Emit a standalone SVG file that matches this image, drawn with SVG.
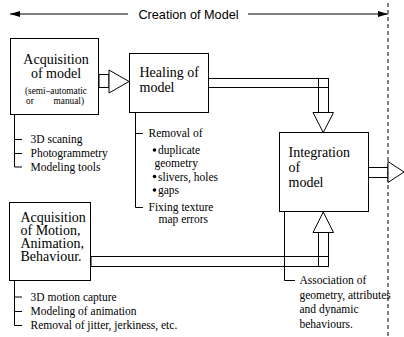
<svg xmlns="http://www.w3.org/2000/svg" width="404" height="337" viewBox="0 0 404 337">
<defs>
<style>
.box{fill:#fff;stroke:#000;stroke-width:1}
.sh{fill:none;stroke:#000;stroke-width:1}
.tri{fill:#fff;stroke:#000;stroke-width:1}
.ln{fill:none;stroke:#000;stroke-width:1}
.t{font-family:"Liberation Serif","Times New Roman",serif;font-size:14px;fill:#000}
.s{font-family:"Liberation Serif","Times New Roman",serif;font-size:11.5px;fill:#000}
.xs{font-family:"Liberation Serif","Times New Roman",serif;font-size:9.3px;fill:#000}
.ti{font-family:"Liberation Sans",Arial,sans-serif;font-size:12.7px;fill:#000}
</style>
<marker id="ah" viewBox="0 0 10 6" refX="10" refY="3" markerWidth="10" markerHeight="6" markerUnits="userSpaceOnUse" orient="auto-start-reverse">
<path d="M0,0 L10,3 L0,6 Z" fill="#000"/>
</marker>
</defs>
<rect width="404" height="337" fill="#fff"/>

<g id="title">
<line x1="10" y1="14" x2="128" y2="14" stroke="#000" stroke-width="1.2" marker-start="url(#ah)"/>
<line x1="248" y1="14" x2="388" y2="14" stroke="#000" stroke-width="1.2" marker-end="url(#ah)"/>
<text class="ti" x="188.5" y="18.5" text-anchor="middle">Creation of Model</text>
</g>
<line x1="388" y1="3" x2="388" y2="337" stroke="#555" stroke-width="1.5" stroke-dasharray="4,3"/>

<g id="connectors">
<rect class="sh" x="99" y="74.5" width="10" height="13"/>
<polygon class="tri" points="109,70 129,81.5 109,93"/>
<rect class="sh" x="208.5" y="78.5" width="120" height="9"/>
<rect class="sh" x="318.5" y="78.5" width="10" height="34"/>
<polygon class="tri" points="313,112.5 333.5,112.5 323.25,132.5"/>
<rect class="sh" x="368.5" y="167.5" width="19.5" height="10"/>
<polygon class="tri" points="388,161.5 404,172 388,182.5"/>
<rect class="sh" x="91" y="256.5" width="237.5" height="10"/>
<rect class="sh" x="318.5" y="232.5" width="10" height="34"/>
<polygon class="tri" points="313,232.5 333.5,232.5 323.25,212"/>
</g>

<g id="acq-model">
<rect class="box" x="10.5" y="38.5" width="88" height="76"/>
<text class="t" x="56" y="64" text-anchor="middle">Acquisition</text>
<text class="t" x="56" y="78" text-anchor="middle">of model</text>
<text class="xs" x="56" y="93.5" text-anchor="middle">(semi–automatic</text>
<text class="xs" x="26" y="103.5">or</text>
<text class="xs" x="84" y="103.5" text-anchor="end">manual)</text>
<path class="ln" d="M14.5,115 V167 M14.5,139.5 H22 M14.5,153.5 H22 M14.5,167 H22"/>
<text class="s" x="30.5" y="143">3D scaning</text>
<text class="s" x="30.5" y="157">Photogrammetry</text>
<text class="s" x="30.5" y="170.5">Modeling tools</text>
</g>

<g id="healing">
<rect class="box" x="129.5" y="53.5" width="79" height="59"/>
<text class="t" x="139.5" y="77">Healing of</text>
<text class="t" x="139.5" y="92">model</text>
<path class="ln" d="M135.5,113 V207.5 M135.5,133.5 H143 M135.5,207.5 H143"/>
<text class="s" x="148.5" y="137">Removal of</text>
<circle cx="154.5" cy="150" r="1.8" fill="#000"/>
<text class="s" x="158" y="154">duplicate</text>
<text class="s" x="154.5" y="167">geometry</text>
<circle cx="154.5" cy="176.5" r="1.8" fill="#000"/>
<text class="s" x="158" y="180.5">slivers, holes</text>
<circle cx="154.5" cy="190" r="1.8" fill="#000"/>
<text class="s" x="158" y="194">gaps</text>
<text class="s" x="148.5" y="211">Fixing texture</text>
<text class="s" x="158.5" y="223">map errors</text>
</g>

<g id="integration">
<rect class="box" x="279.5" y="132.5" width="89" height="79"/>
<text class="t" x="288.5" y="157">Integration</text>
<text class="t" x="288.5" y="172">of</text>
<text class="t" x="288.5" y="187">model</text>
<path class="ln" d="M284.5,212 V280.5 H295"/>
<text class="s" x="299.5" y="284">Association of</text>
<text class="s" x="299.5" y="298.5">geometry, attributes</text>
<text class="s" x="299.5" y="313">and dynamic</text>
<text class="s" x="299.5" y="327.5">behaviours.</text>
</g>

<g id="acq-motion">
<rect class="box" x="9.5" y="202.5" width="81" height="78"/>
<text class="t" x="20.5" y="221.5">Acquisition</text>
<text class="t" x="20.5" y="234.5">of Motion,</text>
<text class="t" x="20.5" y="247.5">Animation,</text>
<text class="t" x="20.5" y="260.5">Behaviour.</text>
<path class="ln" d="M14.5,281 V325.5 M14.5,297 H22 M14.5,311.5 H22 M14.5,325.5 H22"/>
<text class="s" x="30.5" y="300.5">3D motion capture</text>
<text class="s" x="30.5" y="315">Modeling of animation</text>
<text class="s" x="30.5" y="329">Removal of jitter, jerkiness, etc.</text>
</g>
</svg>
